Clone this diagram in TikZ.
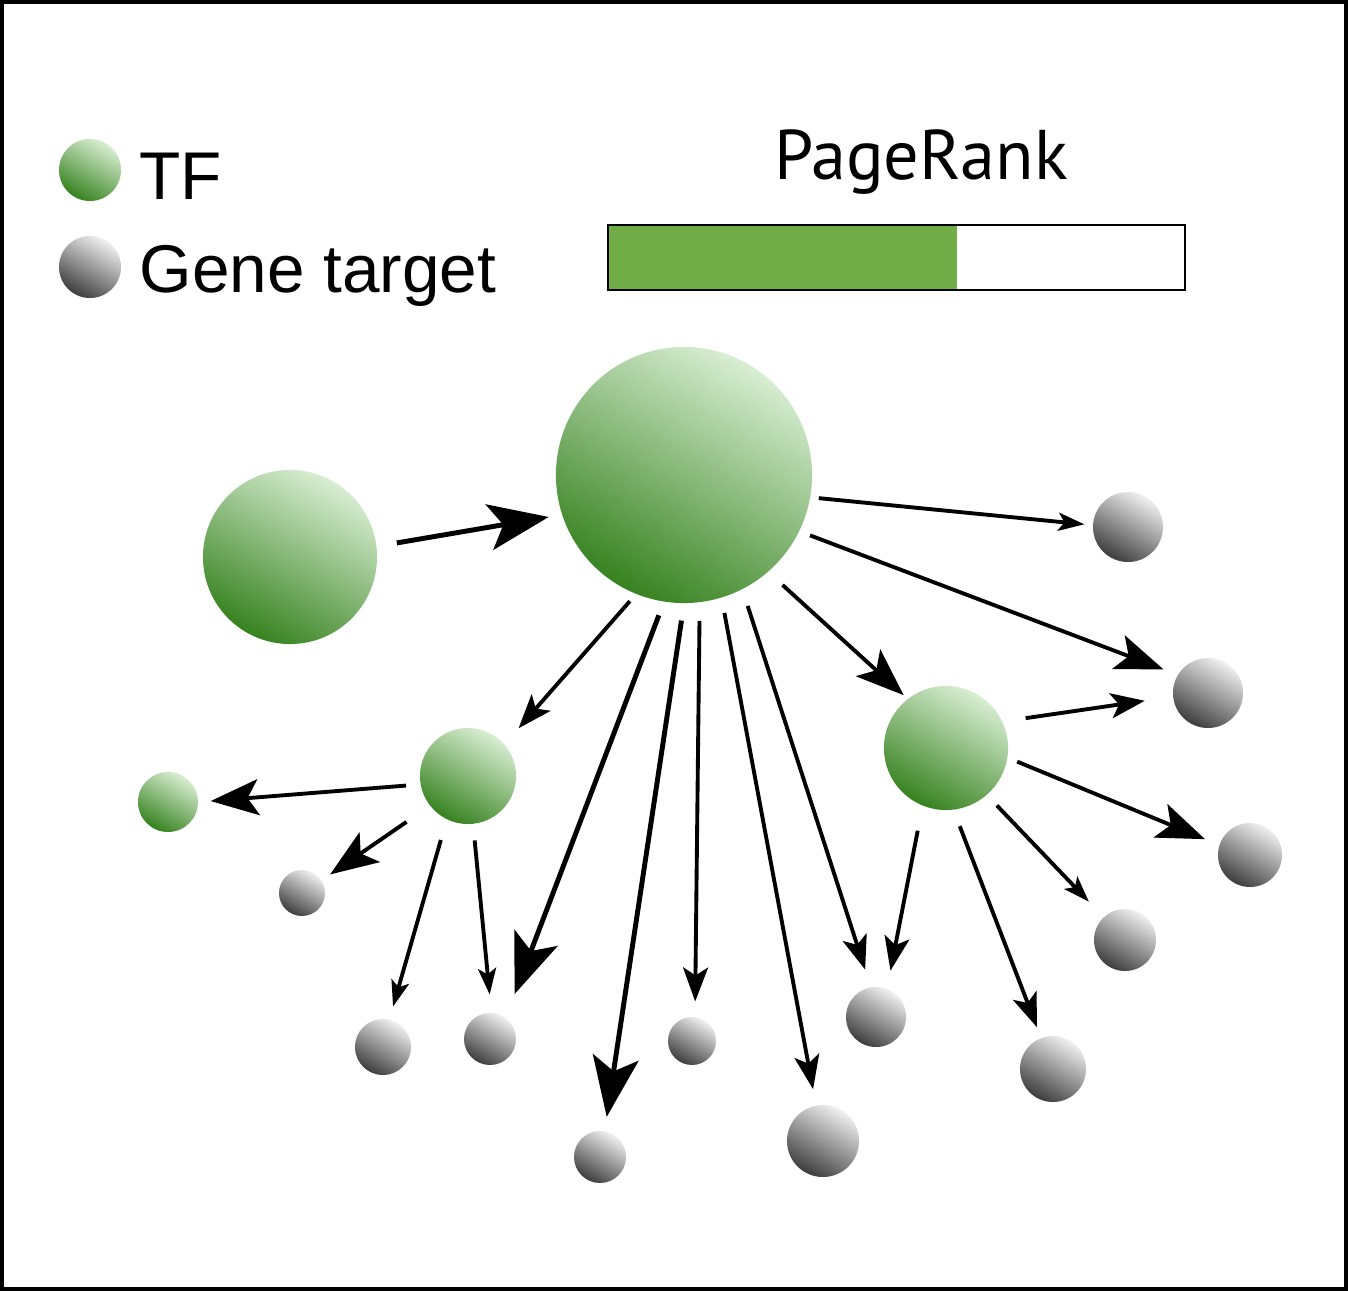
\documentclass[tikz,border=0pt]{standalone}
\usepackage{fontspec}
\setmainfont{Liberation Sans}
\newfontfamily\rankfont{PT Sans}
\usetikzlibrary{arrows.meta}

\definecolor{tflight}{RGB}{216,238,210}
\definecolor{tfdark}{RGB}{55,130,32}
\definecolor{genelight}{RGB}{240,240,240}
\definecolor{genedark}{RGB}{62,62,62}
\definecolor{rankgreen}{RGB}{112,173,71}

\begin{document}
\begin{tikzpicture}[x = 0.01cm, y = -0.01cm,
        tf/.style = {circle, inner sep = 0pt, top color = tflight, bottom color = tfdark, shading angle = -30},
        gene/.style = {circle, inner sep = 0pt, top color = genelight, bottom color = genedark, shading angle = -30},
        link/.style = {line width = 1.1pt},
        head s/.style = {-{Stealth[length = 0.26cm, width = 0.18cm, inset = 0.06cm]}},
        head m/.style = {-{Stealth[length = 0.34cm, width = 0.25cm, inset = 0.08cm]}},
        head l/.style = {-{Stealth[length = 0.48cm, width = 0.36cm, inset = 0.11cm]}},
        head xl/.style = {line width = 1.4pt, -{Stealth[length = 0.60cm, width = 0.46cm, inset = 0.14cm]}}
    ]
        \useasboundingbox (0,0) rectangle (1348,1291);
        \draw[line width = 1pt] (2,2) rectangle (1346,1289);

        % legend
        \node[tf, minimum size = 0.62cm] (ltf) at (90,170) {};
        \node[gene, minimum size = 0.62cm] (lgene) at (90,267) {};
        \node[anchor = base west, inner sep = 0pt, font = \fontsize{19.2}{23}\selectfont] (ltftext) at (139,200) {TF};
        \node[anchor = base west, inner sep = 0pt, font = \fontsize{19.2}{23}\selectfont] (lgenetext) at (139,292) {Gene target};

        % pagerank bar
        \node[anchor = base, inner sep = 0pt, font = \rankfont\fontsize{20}{24}\selectfont] (rank) at (921,180) {PageRank};
        \fill[rankgreen] (608,225) rectangle (957,290);
        \draw[line width = 0.8pt] (608,225) rectangle (1185,290);

        % transcription factors
        \node[tf, minimum size = 2.56cm] (big) at (684,475) {};
        \node[tf, minimum size = 1.74cm] (left) at (290,557) {};
        \node[tf, minimum size = 0.96cm] (mid) at (468,776) {};
        \node[tf, minimum size = 0.60cm] (small) at (168,802) {};
        \node[tf, minimum size = 1.24cm] (right) at (946,748) {};

        % gene targets
        \node[gene, minimum size = 0.70cm] (g1) at (1128,527) {};
        \node[gene, minimum size = 0.70cm] (g2) at (1208,693) {};
        \node[gene, minimum size = 0.64cm] (g3) at (1250,855) {};
        \node[gene, minimum size = 0.62cm] (g4) at (1125,940) {};
        \node[gene, minimum size = 0.66cm] (g5) at (1053,1069) {};
        \node[gene, minimum size = 0.60cm] (g6) at (876,1017) {};
        \node[gene, minimum size = 0.72cm] (g7) at (823,1141) {};
        \node[gene, minimum size = 0.48cm] (g8) at (692,1041) {};
        \node[gene, minimum size = 0.52cm] (g9) at (600,1157) {};
        \node[gene, minimum size = 0.52cm] (g10) at (490,1039) {};
        \node[gene, minimum size = 0.56cm] (g11) at (383,1047) {};
        \node[gene, minimum size = 0.46cm] (g12) at (302,893) {};

        % edges
        \draw[link, head xl, shorten <= 0.20cm, shorten >= 0.13cm] (left.7.6) -- (big.198);
        \draw[link, head s, shorten <= 0.08cm, shorten >= 0.08cm] (big.-10.6) -- (g1.177);
        \draw[link, head l, shorten <= 0.11cm, shorten >= 0.15cm] (big.-26.6) -- (g2.149);
        \draw[link, head l, shorten <= 0.19cm, shorten >= 0.05cm] (big.-49.4) -- (right.128);
        \draw[link, head m, shorten <= 0.09cm, shorten >= 0.21cm] (big.-112.3) -- (mid.41.5);
        \draw[link, head xl, shorten <= 0.14cm, shorten >= 0.25cm] (big.-99.7) -- (g10.54);
        \draw[link, head xl, shorten <= 0.17cm, shorten >= 0.14cm] (big.-90.4) -- (g9.80);
        \draw[link, head m, shorten <= 0.18cm, shorten >= 0.15cm] (big.-83.7) -- (g8.83);
        \draw[link, head m, shorten <= 0.15cm, shorten >= 0.16cm] (big.-73.7) -- (g7.101);
        \draw[link, head m, shorten <= 0.17cm, shorten >= 0.18cm] (big.-63.8) -- (g6.100);

        \draw[link, head m, shorten <= 0.25cm, shorten >= 0.18cm] (right.-112.4) -- (g6.69);
        \draw[link, head m, shorten <= 0.17cm, shorten >= 0.11cm] (right.-83.4) -- (g5.111);
        \draw[link, head s, shorten <= 0.14cm, shorten >= 0.21cm] (right.-49.8) -- (g4.133);
        \draw[link, head l, shorten <= 0.10cm, shorten >= 0.15cm] (right.-9.6) -- (g3.162);
        \draw[link, head m, shorten <= 0.23cm, shorten >= 0.28cm] (right.25) -- (g2.186);

        \draw[link, head l, shorten <= 0.14cm, shorten >= 0.12cm] (mid.190) -- (small.0);
        \draw[link, head l, shorten <= 0.28cm, shorten >= 0.10cm] (mid.218) -- (g12.33);
        \draw[link, head s, shorten <= 0.21cm, shorten >= 0.13cm] (mid.244) -- (g11.77);
        \draw[link, head s, shorten <= 0.16cm, shorten >= 0.18cm] (mid.276) -- (g10.87);
    \end{tikzpicture}
\end{document}
